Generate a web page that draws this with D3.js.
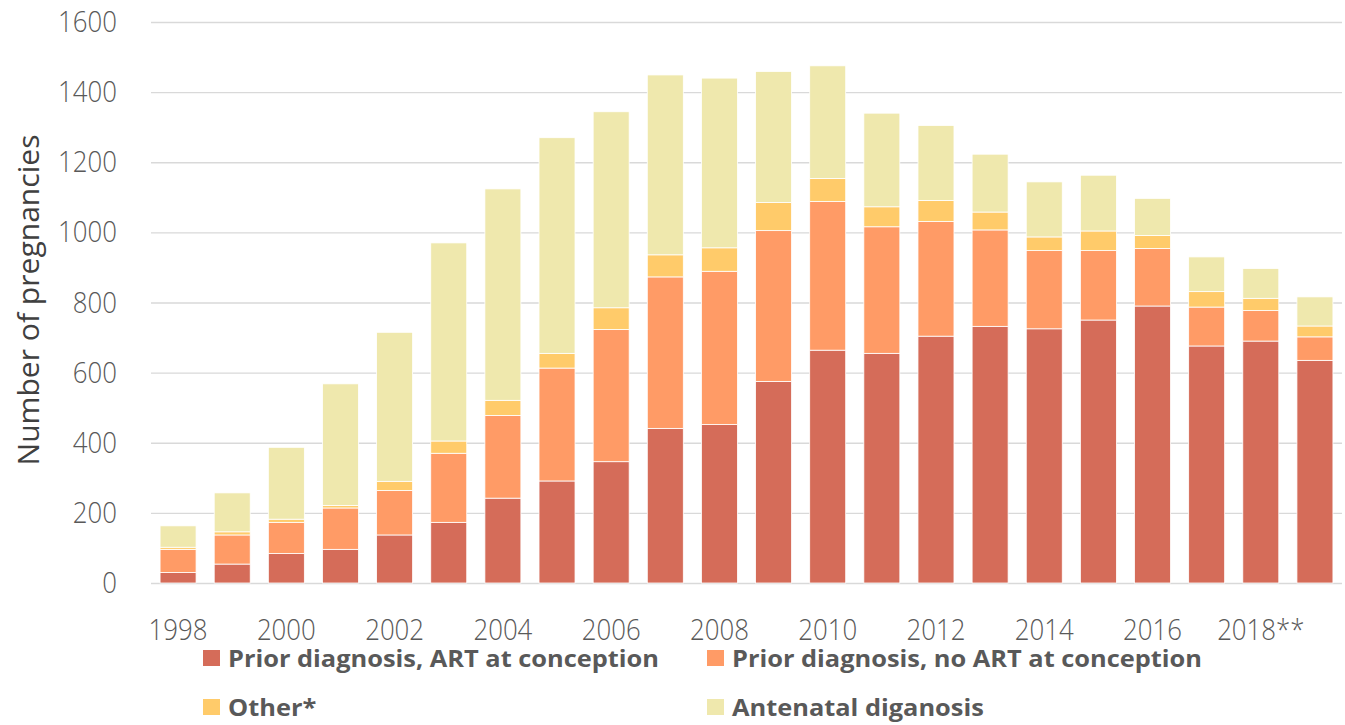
<!DOCTYPE html>
<html>
<head>
<meta charset="utf-8">
<script src="https://cdn.jsdelivr.net/npm/d3@7"></script>
<style>
  html, body { margin: 0; padding: 0; background: #fff; }
  svg { display: block; }
</style>
</head>
<body>
<svg id="chart" width="1345" height="725"></svg>
<script>
const categories = ["1998","1999","2000","2001","2002","2003","2004","2005","2006","2007","2008","2009","2010","2011","2012","2013","2014","2015","2016","2017","2018**","2019"];
const artAtConception   = [30, 54, 84, 96, 137, 173, 242, 291, 346, 441, 452, 575, 664, 655, 704, 732, 725, 750, 790, 676, 690, 635];
const noArtAtConception = [66, 83, 89, 118, 127, 197, 236, 322, 377, 432, 437, 430, 424, 361, 327, 275, 223, 198, 164, 111, 87, 67];
const other             = [6, 9, 9, 7, 26, 35, 43, 42, 62, 63, 67, 80, 66, 57, 60, 51, 39, 56, 37, 44, 35, 31];
const antenatal         = [61, 111, 205, 347, 425, 565, 603, 615, 559, 513, 484, 374, 321, 267, 214, 165, 157, 159, 106, 99, 85, 83];
const yTicks = [0, 200, 400, 600, 800, 1000, 1200, 1400, 1600];
const seriesNames = ["Prior diagnosis, ART at conception", "Prior diagnosis, no ART at conception", "Other*", "Antenatal diganosis"];
const seriesColors = ["#D56C59", "#FF9B66", "#FFCB6A", "#EFE8AD"];

(function () {
const svg = d3.select("#chart");
const mLeft = 151, mRight = 1342, mTop = 22, mBottom = 583;

const x = d3.scaleBand().domain(categories).range([mLeft, mRight]).paddingInner(0.335).paddingOuter(0.1675);
const y = d3.scaleLinear().domain([0, 1600]).range([mBottom, mTop]);

// gridlines + y labels
const yAxis = svg.append("g")
  .attr("transform", `translate(${mLeft},0)`)
  .call(d3.axisLeft(y).tickValues(yTicks).tickSize(-(mRight - mLeft)).tickPadding(34).tickFormat(d3.format("d")));
yAxis.select(".domain").remove();
yAxis.selectAll(".tick line").attr("stroke", "#d9d9d9").attr("stroke-width", 1.3);
yAxis.selectAll(".tick text")
  .attr("fill", "#595959").attr("font-family", "'Open Sans', sans-serif").attr("font-weight", 300).attr("font-size", 30)
  .attr("class", "sq");

// stacked data
const keys = ["a", "b", "c", "d"];
const rows = categories.map((c, i) => ({cat: c, a: artAtConception[i], b: noArtAtConception[i], c: other[i], d: antenatal[i]}));
const stacked = d3.stack().keys(keys)(rows);

svg.append("g").selectAll("g").data(stacked).join("g")
  .attr("fill", (d, i) => seriesColors[i])
  .selectAll("rect").data(d => d).join("rect")
  .attr("x", d => x(d.data.cat))
  .attr("width", x.bandwidth())
  .attr("y", d => y(d[1]))
  .attr("height", d => y(d[0]) - y(d[1]))
  .attr("stroke", "#ffffff").attr("stroke-width", 0.8);

// x axis labels
const shown = categories.filter((c, i) => i % 2 === 0);
const xAxis = svg.append("g")
  .attr("transform", `translate(0,${mBottom})`)
  .call(d3.axisBottom(x).tickValues(shown).tickSize(0).tickPadding(36));
xAxis.select(".domain").remove();
xAxis.selectAll(".tick text")
  .attr("fill", "#595959").attr("font-family", "'Open Sans', sans-serif").attr("font-weight", 300).attr("font-size", 30)
  .attr("class", "sq");

// y title
svg.append("text")
  .attr("transform", "translate(39,300) rotate(-90)")
  .attr("text-anchor", "middle")
  .attr("fill", "#404040").attr("font-family", "'Open Sans', sans-serif").attr("font-size", 30)
  .attr("textLength", 331).attr("lengthAdjust", "spacingAndGlyphs")
  .text("Number of pregnancies");

// legend
const legendPos = [[203, 667], [707, 667], [203, 716], [707, 716]];
const lg = svg.append("g").selectAll("g").data(seriesNames).join("g")
  .attr("transform", (d, i) => `translate(${legendPos[i][0]},${legendPos[i][1]})`);
lg.append("rect").attr("x", 0).attr("y", -17).attr("width", 17).attr("height", 16).attr("fill", (d, i) => seriesColors[i]);
lg.append("text").attr("x", 25).attr("y", 0)
  .attr("fill", "#595959").attr("font-family", "'Open Sans', sans-serif").attr("font-weight", 700).attr("font-size", 24)
  .attr("class", "sqb")
  .text(d => d);

// horizontal squeeze to match the reference's condensed letterforms
svg.selectAll("text.sq").each(function() {
  const n = this.getComputedTextLength();
  d3.select(this).attr("textLength", n * 0.86).attr("lengthAdjust", "spacingAndGlyphs");
});
const legendTexts = svg.selectAll("text.sqb");
const firstLen = legendTexts.node().getComputedTextLength();
const legendSqueeze = 431 / firstLen;
legendTexts.each(function() {
  const n = this.getComputedTextLength();
  d3.select(this).attr("textLength", n * legendSqueeze).attr("lengthAdjust", "spacingAndGlyphs");
});
})();
</script>
</body>
</html>
